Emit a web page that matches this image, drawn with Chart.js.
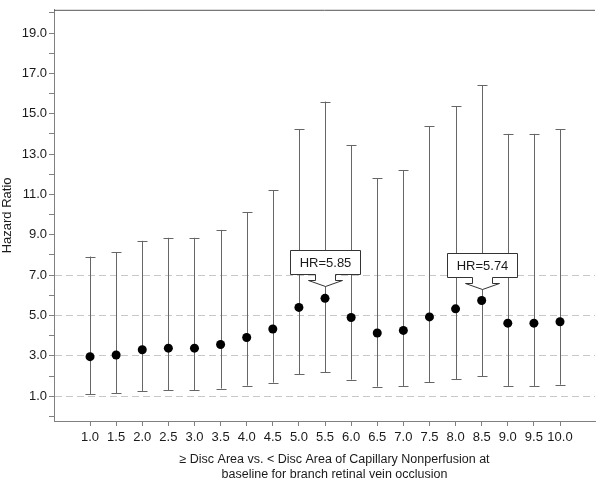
<!DOCTYPE html>
<html>
<head>
<meta charset="utf-8">
<script src="https://cdn.jsdelivr.net/npm/chart.js@4.4.1/dist/chart.umd.min.js"></script>
<style>
  html, body { margin: 0; padding: 0; background: #fff; }
  #wrap { width: 600px; height: 482px; }
</style>
</head>
<body>
<div id="wrap"><canvas id="chart"></canvas></div>
<script>
// ---------- Data ----------
const cutoffs = [1.0, 1.5, 2.0, 2.5, 3.0, 3.5, 4.0, 4.5, 5.0, 5.5, 6.0, 6.5, 7.0, 7.5, 8.0, 8.5, 9.0, 9.5, 10.0];
const hazardRatio = [2.96, 3.04, 3.30, 3.38, 3.38, 3.56, 3.91, 4.33, 5.40, 5.85, 4.90, 4.13, 4.26, 4.93, 5.33, 5.74, 4.62, 4.62, 4.69];
const lowerCI = [1.10, 1.15, 1.26, 1.29, 1.29, 1.38, 1.52, 1.67, 2.08, 2.19, 1.82, 1.47, 1.51, 1.69, 1.85, 2.00, 1.51, 1.51, 1.57];
const upperCI = [7.92, 8.13, 8.70, 8.85, 8.85, 9.24, 10.12, 11.20, 14.24, 15.60, 13.45, 11.79, 12.21, 14.38, 15.38, 16.42, 14.00, 14.00, 14.22];

const yTickValues = [0, 1, 2, 3, 4, 5, 6, 7, 8, 9, 10, 11, 12, 13, 14, 15, 16, 17, 18, 19, 20];
const yLabelValues = [1, 3, 5, 7, 9, 11, 13, 15, 17, 19];
const refLines = [1, 3, 5, 7];

const calloutAt = [5.5, 8.5];
const calloutText = ['HR=5.85', 'HR=5.74'];

const xTitleLines = [
    '\u2265 Disc Area vs. < Disc Area of Capillary Nonperfusion at',
    'baseline for branch retinal vein occlusion'
];
const yTitle = 'Hazard Ratio';

const FONT = "'Liberation Sans', Arial, sans-serif";
const TEXT = '#1a1a1a';
const AXIS = '#808080';

// ---------- Plugins ----------
// whiskers (CI) behind the points
const ciBars = {
    id: 'ciBars',
    beforeDatasetsDraw(chart) {
        const { ctx, scales: { x, y } } = chart;
        ctx.save();
        ctx.strokeStyle = '#666';
        ctx.lineWidth = 1;
        cutoffs.forEach((c, i) => {
            const px = Math.round(x.getPixelForValue(c)) + 0.5;
            const lo = y.getPixelForValue(lowerCI[i]);
            const hi = y.getPixelForValue(upperCI[i]);
            ctx.beginPath();
            ctx.moveTo(px, lo); ctx.lineTo(px, hi);
            ctx.moveTo(px - 5, Math.round(lo) + 0.5); ctx.lineTo(px + 5, Math.round(lo) + 0.5);
            ctx.moveTo(px - 5, Math.round(hi) + 0.5); ctx.lineTo(px + 5, Math.round(hi) + 0.5);
            ctx.stroke();
        });
        ctx.restore();
    }
};

// callout boxes pointing at selected estimates
const callouts = {
    id: 'callouts',
    afterDatasetsDraw(chart) {
        const { ctx, scales: { x, y } } = chart;
        ctx.save();
        calloutAt.forEach((c, k) => {
            const i = cutoffs.indexOf(c);
            const cx = Math.round(x.getPixelForValue(c)) + 0.5;
            const tip = Math.round(y.getPixelForValue(hazardRatio[i]) - 12) + 0.5;
            const bottom = tip - 12, top = bottom - 24;
            const hw = 35;
            ctx.beginPath();
            ctx.moveTo(cx - hw, top);
            ctx.lineTo(cx + hw, top);
            ctx.lineTo(cx + hw, bottom);
            ctx.lineTo(cx + 10, bottom);
            ctx.lineTo(cx + 10, bottom + 6);
            ctx.lineTo(cx + 17, bottom + 6);
            ctx.lineTo(cx, tip);
            ctx.lineTo(cx - 17, bottom + 6);
            ctx.lineTo(cx - 10, bottom + 6);
            ctx.lineTo(cx - 10, bottom);
            ctx.lineTo(cx - hw, bottom);
            ctx.closePath();
            ctx.fillStyle = '#fff';
            ctx.fill();
            ctx.strokeStyle = '#333';
            ctx.lineWidth = 1;
            ctx.stroke();
            ctx.fillStyle = TEXT;
            ctx.font = '13px ' + FONT;
            ctx.textAlign = 'center';
            ctx.textBaseline = 'middle';
            ctx.fillText(calloutText[k], cx, (top + bottom) / 2 + 1);
        });
        ctx.restore();
    }
};

// top frame line + two-line x title
const frame = {
    id: 'frame',
    afterDraw(chart) {
        const { ctx, chartArea: a } = chart;
        ctx.save();
        ctx.strokeStyle = '#555';
        ctx.lineWidth = 1;
        ctx.beginPath();
        ctx.moveTo(a.left, a.top + 0.5);
        ctx.lineTo(a.right, a.top + 0.5);
        ctx.stroke();

        ctx.fillStyle = TEXT;
        ctx.font = '12.5px ' + FONT;
        ctx.textAlign = 'center';
        ctx.textBaseline = 'middle';
        const cx = (a.left + a.right) / 2 + 10;
        xTitleLines.forEach((t, i) => ctx.fillText(t, cx, 460 + i * 14.5));
        ctx.restore();
    }
};

// ---------- Chart ----------
const ctx = document.getElementById('chart').getContext('2d');
const chartInstance = new Chart(ctx, {
    type: 'scatter',
    data: {
        datasets: [{
            data: cutoffs.map((c, i) => ({ x: c, y: hazardRatio[i] })),
            pointRadius: 4.5,
            pointBorderWidth: 0,
            backgroundColor: '#000',
            borderColor: '#000',
            showLine: false
        }]
    },
    options: {
        responsive: true,
        maintainAspectRatio: false,
        animation: false,
        layout: { padding: { top: 3, right: 5, left: 0, bottom: 0 } },
        plugins: { legend: { display: false }, tooltip: { enabled: false } },
        scales: {
            x: {
                type: 'linear',
                min: 0.31,
                max: 10.67,
                afterBuildTicks: s => { s.ticks = cutoffs.map(v => ({ value: v })); },
                afterFit: s => { s.height = 61; },
                ticks: {
                    callback: v => Number(v).toFixed(1),
                    color: TEXT,
                    font: { family: FONT, size: 13 },
                    padding: 4,
                    maxRotation: 0,
                    autoSkip: false
                },
                grid: { drawOnChartArea: false, drawTicks: true, tickLength: 5, tickColor: AXIS },
                border: { color: AXIS, width: 1 }
            },
            y: {
                min: -0.23,
                max: 20.15,
                afterBuildTicks: s => { s.ticks = yTickValues.map(v => ({ value: v })); },
                afterFit: s => { s.width = 54; },
                ticks: {
                    callback: v => yLabelValues.includes(v) ? Number(v).toFixed(1) : '',
                    color: TEXT,
                    font: { family: FONT, size: 13 },
                    padding: 2,
                    autoSkip: false
                },
                grid: {
                    color: c => (c.tick && refLines.includes(c.tick.value)) ? '#c8c8c8' : 'rgba(0,0,0,0)',
                    lineWidth: 1,
                    tickLength: 5,
                    tickColor: AXIS
                },
                border: { color: AXIS, width: 1, dash: [7, 4] },
                title: {
                    display: true,
                    text: yTitle,
                    color: TEXT,
                    font: { family: FONT, size: 13 },
                    padding: { top: 0, bottom: 0 }
                }
            }
        }
    },
    plugins: [ciBars, callouts, frame]
});
</script>
</body>
</html>
